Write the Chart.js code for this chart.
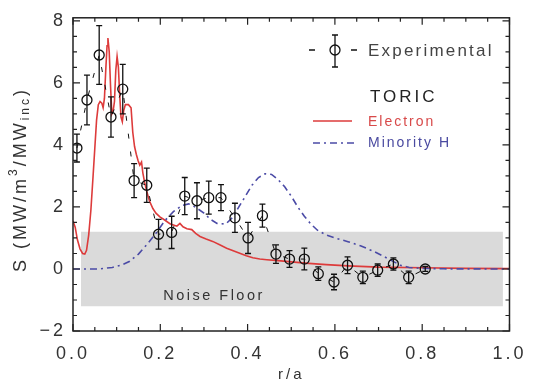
<!DOCTYPE html>
<html>
<head>
<meta charset="utf-8">
<script src="https://cdn.jsdelivr.net/npm/chart.js@4.4.1/dist/chart.umd.min.js"></script>
<style>
  html, body { margin: 0; padding: 0; background: #fff; }
  #wrap { width: 534px; height: 384px; }
</style>
</head>
<body>
<div id="wrap"><canvas id="chart" width="534" height="384"></canvas></div>
<script>
// experimental points (r/a, S, error)
const expX   = [0.009, 0.032, 0.06, 0.087, 0.114, 0.14, 0.169, 0.196, 0.226, 0.256, 0.284, 0.311, 0.339, 0.371, 0.401, 0.434, 0.465, 0.496, 0.53, 0.562, 0.598, 0.629, 0.664, 0.698, 0.734, 0.769, 0.807];
const expY   = [3.9, 5.45, 6.9, 4.9, 5.8, 2.85, 2.7, 1.12, 1.18, 2.35, 2.2, 2.3, 2.3, 1.65, 1.0, 1.72, 0.48, 0.32, 0.32, -0.15, -0.42, 0.12, -0.27, -0.04, 0.16, -0.27, 0.0];
const expErr = [0.45, 0.8, 0.95, 0.65, 0.8, 0.55, 0.55, 0.48, 0.52, 0.6, 0.58, 0.53, 0.42, 0.47, 0.5, 0.37, 0.3, 0.27, 0.35, 0.22, 0.25, 0.27, 0.2, 0.2, 0.2, 0.2, 0.08];

// TORIC electron
const elecX = [0.0, 0.005, 0.01, 0.016, 0.022, 0.027, 0.031, 0.036, 0.041, 0.046, 0.05, 0.054, 0.058, 0.062, 0.066, 0.069, 0.072, 0.075, 0.078, 0.08, 0.083, 0.086, 0.089, 0.092, 0.095, 0.098, 0.101, 0.104, 0.107, 0.11, 0.113, 0.116, 0.12, 0.127, 0.133, 0.137, 0.141, 0.145, 0.149, 0.153, 0.157, 0.16, 0.164, 0.169, 0.175, 0.183, 0.19, 0.199, 0.21, 0.222, 0.23, 0.238, 0.245, 0.252, 0.261, 0.272, 0.281, 0.291, 0.305, 0.32, 0.336, 0.352, 0.367, 0.382, 0.397, 0.412, 0.428, 0.444, 0.47, 0.5, 0.54, 0.58, 0.63, 0.7, 0.8, 0.9, 1.0];
const elecY = [1.55, 1.35, 0.95, 0.65, 0.5, 0.48, 0.6, 1.1, 1.9, 3.0, 3.9, 4.8, 5.3, 5.4, 5.35, 5.2, 5.5, 6.4, 7.2, 7.45, 7.0, 5.9, 5.0, 5.1, 5.4, 6.4, 6.85, 6.5, 5.6, 4.9, 4.75, 5.1, 5.3, 5.3, 5.2, 4.4, 3.95, 3.7, 3.5, 3.35, 3.45, 3.1, 2.8, 2.5, 2.2, 1.95, 1.8, 1.68, 1.58, 1.46, 1.42, 1.38, 1.47, 1.36, 1.3, 1.27, 1.15, 1.05, 0.97, 0.89, 0.78, 0.67, 0.59, 0.51, 0.43, 0.36, 0.32, 0.3, 0.27, 0.23, 0.18, 0.14, 0.1, 0.06, 0.04, 0.02, 0.01];

// TORIC minority H
const minX = [0.0, 0.06, 0.09, 0.11, 0.13, 0.15, 0.17, 0.19, 0.21, 0.23, 0.25, 0.265, 0.28, 0.3, 0.315, 0.33, 0.35, 0.365, 0.38, 0.395, 0.41, 0.425, 0.44, 0.455, 0.47, 0.485, 0.5, 0.515, 0.53, 0.545, 0.56, 0.58, 0.6, 0.63, 0.66, 0.69, 0.71, 0.73, 0.75, 0.77, 0.8, 0.85, 1.0];
const minY = [0.0, 0.0, 0.05, 0.12, 0.25, 0.48, 0.8, 1.15, 1.55, 1.85, 2.05, 2.1, 2.0, 1.8, 1.6, 1.47, 1.45, 1.65, 2.0, 2.35, 2.7, 2.95, 3.07, 3.05, 2.88, 2.65, 2.35, 2.0, 1.7, 1.45, 1.25, 1.1, 1.0, 0.88, 0.74, 0.56, 0.42, 0.27, 0.12, 0.05, 0.02, 0.005, 0.0];

// noise floor band
const noiseX = [0.018, 0.985];
const noiseFloor = [-1.2, 1.2];
const noiseLabel = { x: 0.323, y: -0.86 };

const xTicks = [0.0, 0.2, 0.4, 0.6, 0.8, 1.0];
const yTicks = [-2, 0, 2, 4, 6, 8];

const FONT = "'Liberation Sans', Arial, Helvetica, sans-serif";
const pts = (xs, ys) => xs.map((x, i) => ({ x: x, y: ys[i] }));

const decor = {
  id: 'decor',
  beforeDraw(chart) {
    chart.ctx.letterSpacing = '3px';
  },
  afterDatasetsDraw(chart) {
    const ctx = chart.ctx, xs = chart.scales.x, ys = chart.scales.y;
    ctx.save();
    ctx.strokeStyle = '#111';
    ctx.lineWidth = 1.3;
    expX.forEach((x, i) => {
      const px = xs.getPixelForValue(x);
      const t = ys.getPixelForValue(expY[i] + expErr[i]);
      const b = ys.getPixelForValue(expY[i] - expErr[i]);
      ctx.beginPath();
      ctx.moveTo(px, t); ctx.lineTo(px, b);
      ctx.moveTo(px - 3, t); ctx.lineTo(px + 3, t);
      ctx.moveTo(px - 3, b); ctx.lineTo(px + 3, b);
      ctx.stroke();
    });
    // noise floor label
    ctx.letterSpacing = '2.5px';
    ctx.font = '14.5px ' + FONT;
    ctx.fillStyle = '#333';
    ctx.textAlign = 'center';
    ctx.textBaseline = 'middle';
    ctx.fillText('Noise Floor', xs.getPixelForValue(noiseLabel.x), ys.getPixelForValue(noiseLabel.y));
    ctx.restore();
  },
  afterDraw(chart) {
    const ctx = chart.ctx, xs = chart.scales.x, ys = chart.scales.y;
    const { left, right, top, bottom } = chart.chartArea;
    ctx.save();
    ctx.strokeStyle = '#222';
    ctx.lineWidth = 1.5;
    ctx.strokeRect(left, top, right - left, bottom - top);
    ctx.lineWidth = 1.2;
    ctx.beginPath();
    for (let k = 0; k <= 20; k++) {
      const px = xs.getPixelForValue(k * 0.05);
      const len = k % 4 === 0 ? 7 : 4;
      ctx.moveTo(px, bottom); ctx.lineTo(px, bottom - len);
      ctx.moveTo(px, top); ctx.lineTo(px, top + len);
    }
    for (let k = -4; k <= 16; k++) {
      const py = ys.getPixelForValue(k * 0.5);
      const len = k % 4 === 0 ? 7 : 4;
      ctx.moveTo(left, py); ctx.lineTo(left + len, py);
      ctx.moveTo(right, py); ctx.lineTo(right - len, py);
    }
    ctx.stroke();

    // y axis title with super/subscripts
    ctx.translate(21, 272);
    ctx.rotate(-Math.PI / 2);
    ctx.fillStyle = '#333';
    ctx.textAlign = 'left';
    ctx.textBaseline = 'middle';
    ctx.letterSpacing = '3px';
    const parts = [
      ['S (MW/m', 18, 0],
      ['3', 12, -7],
      ['/MW', 18, 0],
      ['inc', 12, 5],
      [')', 18, 0]
    ];
    let cx = 0;
    parts.forEach(([t, size, dy]) => {
      ctx.font = size + 'px ' + FONT;
      ctx.fillText(t, cx, dy);
      cx += ctx.measureText(t).width;
    });
    ctx.restore();

    // legend
    ctx.save();
    ctx.textAlign = 'left';
    ctx.textBaseline = 'middle';
    ctx.strokeStyle = '#111';
    ctx.lineWidth = 1.3;
    ctx.beginPath();
    ctx.moveTo(309, 50); ctx.lineTo(315, 50);
    ctx.moveTo(351, 50); ctx.lineTo(357, 50);
    ctx.moveTo(335, 35); ctx.lineTo(335, 67);
    ctx.moveTo(332, 35); ctx.lineTo(338, 35);
    ctx.moveTo(332, 67); ctx.lineTo(338, 67);
    ctx.stroke();
    ctx.beginPath();
    ctx.arc(335, 50, 5, 0, Math.PI * 2);
    ctx.stroke();
    ctx.letterSpacing = '2.2px';
    ctx.font = '17px ' + FONT;
    ctx.fillStyle = '#444';
    ctx.fillText('Experimental', 368, 51);
    ctx.letterSpacing = '3px';
    ctx.fillStyle = '#222';
    ctx.fillText('TORIC', 370, 97);

    ctx.lineWidth = 1.6;
    ctx.strokeStyle = '#dd3b3b';
    ctx.beginPath(); ctx.moveTo(313, 121); ctx.lineTo(352, 121); ctx.stroke();
    ctx.strokeStyle = '#4b4ba6';
    ctx.setLineDash([7, 4, 2, 4]);
    ctx.beginPath(); ctx.moveTo(313, 143); ctx.lineTo(354, 143); ctx.stroke();
    ctx.setLineDash([]);

    ctx.letterSpacing = '2px';
    ctx.font = '14px ' + FONT;
    ctx.fillStyle = '#d84a4a';
    ctx.fillText('Electron', 368, 122);
    ctx.fillStyle = '#4a4aa0';
    ctx.fillText('Minority H', 368, 143);
    ctx.restore();
  }
};

new Chart(document.getElementById('chart'), {
  type: 'scatter',
  data: {
    datasets: [
      {
        label: 'noiseTop',
        data: pts(noiseX, [noiseFloor[1], noiseFloor[1]]),
        showLine: true, fill: '+1', backgroundColor: '#dadada',
        borderWidth: 0, pointRadius: 0, order: 10
      },
      {
        label: 'noiseBottom',
        data: pts(noiseX, [noiseFloor[0], noiseFloor[0]]),
        showLine: true, fill: false, borderWidth: 0, pointRadius: 0, order: 11
      },
      {
        label: 'Electron',
        data: pts(elecX, elecY),
        showLine: true, borderColor: '#dd3b3b', borderWidth: 1.6,
        pointRadius: 0, tension: 0, order: 3
      },
      {
        label: 'Minority H',
        data: pts(minX, minY),
        showLine: true, borderColor: '#4b4ba6', borderWidth: 1.6,
        borderDash: [7, 4, 2, 4], pointRadius: 0, tension: 0, order: 2
      },
      {
        label: 'Experimental',
        data: pts(expX, expY),
        showLine: true, borderColor: '#111', borderWidth: 1,
        borderDash: [5, 13],
        pointRadius: 5, pointBorderWidth: 1.3,
        pointBorderColor: '#111', pointBackgroundColor: 'rgba(0,0,0,0)',
        order: 1
      }
    ]
  },
  options: {
    responsive: false,
    animation: false,
    devicePixelRatio: 1,
    layout: { padding: { left: 0, right: 24, top: 13, bottom: 0 } },
    plugins: { legend: { display: false }, tooltip: { enabled: false } },
    scales: {
      x: {
        type: 'linear', min: 0, max: 1,
        grid: { display: false, drawTicks: false },
        border: { display: false },
        afterBuildTicks: s => { s.ticks = xTicks.map(v => ({ value: v })); },
        afterFit: s => { s.height = 53; },
        ticks: {
          callback: v => v.toFixed(1),
          color: '#333', font: { family: FONT, size: 18 },
          padding: 12, maxRotation: 0, autoSkip: false
        },
        title: {
          display: true, text: 'r/a', color: '#333',
          font: { family: FONT, size: 15 }, padding: { top: 0, bottom: 0 }
        }
      },
      y: {
        type: 'linear', min: -2, max: 8.1,
        grid: { display: false, drawTicks: false },
        border: { display: false },
        afterBuildTicks: s => { s.ticks = yTicks.map(v => ({ value: v })); },
        afterFit: s => { s.width = 73; },
        ticks: {
          callback: v => String(v).replace('-', '\u2212'),
          color: '#333', font: { family: FONT, size: 18 },
          padding: 7, autoSkip: false
        }
      }
    }
  },
  plugins: [decor]
});
</script>
</body>
</html>
